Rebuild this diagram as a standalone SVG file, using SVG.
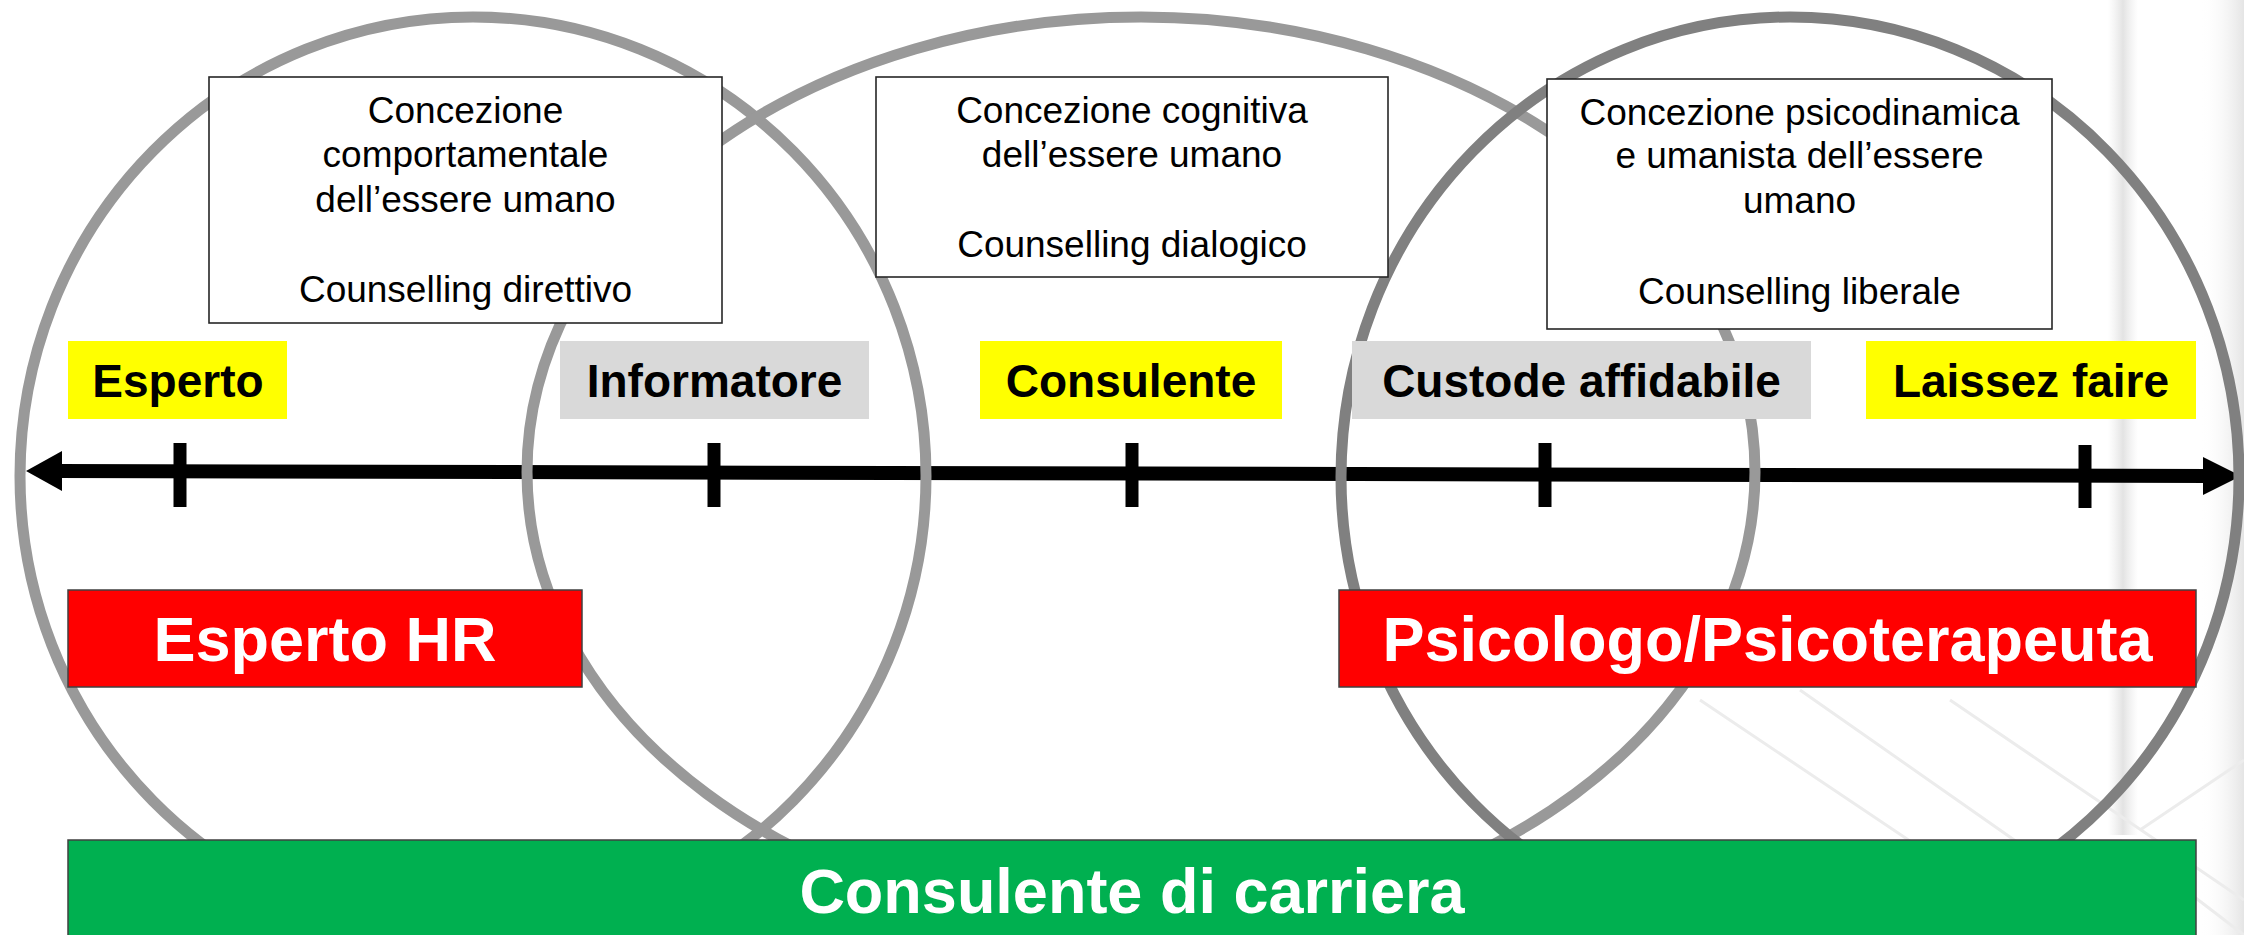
<svg xmlns="http://www.w3.org/2000/svg" width="2244" height="935" viewBox="0 0 2244 935">
  <defs>
    <linearGradient id="bgR" x1="0" y1="0" x2="1" y2="0">
      <stop offset="0" stop-color="#ffffff" stop-opacity="0"/>
      <stop offset="1" stop-color="#d9d9d9" stop-opacity="1"/>
    </linearGradient>
    <linearGradient id="band" x1="0" y1="0" x2="1" y2="0">
      <stop offset="0" stop-color="#e4e4e4" stop-opacity="0"/>
      <stop offset="0.5" stop-color="#dcdcdc" stop-opacity="1"/>
      <stop offset="1" stop-color="#e4e4e4" stop-opacity="0"/>
    </linearGradient>
    <style>
      .ring { fill: none; stroke: #999999; stroke-width: 11; }
      .ring.dark { stroke: #808080; }
      .note { fill: #ffffff; stroke: #262626; stroke-width: 1.6; }
      .note-t { font-family: "Liberation Sans", Arial, sans-serif; font-size: 37px; fill: #000000; text-anchor: middle; }
      .lab-y { fill: #ffff00; }
      .lab-g { fill: #d9d9d9; }
      .lab-t { font-family: "Liberation Sans", Arial, sans-serif; font-size: 46px; font-weight: bold; fill: #000000; text-anchor: middle; }
      .red { fill: #ff0000; stroke: #404040; stroke-width: 1.5; }
      .green { fill: #00b050; stroke: #404040; stroke-width: 1.5; }
      .big-t { font-family: "Liberation Sans", Arial, sans-serif; font-size: 63px; font-weight: bold; fill: #ffffff; text-anchor: middle; }
      .axis { stroke: #000000; stroke-width: 14; fill: none; }
      .tick { stroke: #000000; stroke-width: 13; }
      .tex { stroke: #ececec; stroke-width: 3; fill: none; }
    </style>
  </defs>
  <rect x="0" y="0" width="2244" height="935" fill="#ffffff"/>
  <g id="background-texture">
    <rect x="2200" y="0" width="44" height="935" fill="url(#bgR)" opacity="0.7"/>
    <rect x="2108" y="0" width="30" height="835" fill="url(#band)" opacity="0.8"/>
    <path class="tex" d="M1700,700 L2050,935 M1800,690 L2150,935 M1950,700 L2244,900 M2140,830 L2244,760 M2120,840 L2244,935"/>
  </g>

  <g id="connectors">
    <line class="axis" x1="58" y1="471" x2="2208" y2="476"/>
    <polygon points="26,471 62,451 62,491" fill="#000000"/>
    <polygon points="2241,476 2203,457 2203,495" fill="#000000"/>
    <line class="tick" x1="180" y1="443" x2="180" y2="507"/>
    <line class="tick" x1="714" y1="443" x2="714" y2="507"/>
    <line class="tick" x1="1132" y1="443" x2="1132" y2="507"/>
    <line class="tick" x1="1545" y1="443" x2="1545" y2="507"/>
    <line class="tick" x1="2085" y1="445" x2="2085" y2="508"/>
  </g>

  <g id="circle-left"><ellipse class="ring" cx="473" cy="476" rx="453" ry="459"/></g>
  <g id="circle-middle"><ellipse class="ring" cx="1141" cy="472" rx="614" ry="455"/></g>
  <g id="circle-right"><ellipse class="ring dark" cx="1790" cy="477" rx="449" ry="460"/></g>

  <g id="note-comportamentale">
    <rect class="note" x="209" y="77" width="513" height="246"/>
    <text class="note-t" x="465.5" y="123">Concezione</text>
    <text class="note-t" x="465.5" y="167">comportamentale</text>
    <text class="note-t" x="465.5" y="212">dell’essere umano</text>
    <text class="note-t" x="465.5" y="302">Counselling direttivo</text>
  </g>
  <g id="note-cognitiva">
    <rect class="note" x="876" y="77" width="512" height="200"/>
    <text class="note-t" x="1132" y="123">Concezione cognitiva</text>
    <text class="note-t" x="1132" y="167">dell’essere umano</text>
    <text class="note-t" x="1132" y="257">Counselling dialogico</text>
  </g>
  <g id="note-psicodinamica">
    <rect class="note" x="1547" y="79" width="505" height="250"/>
    <text class="note-t" x="1799.5" y="125">Concezione psicodinamica</text>
    <text class="note-t" x="1799.5" y="168">e umanista dell’essere</text>
    <text class="note-t" x="1799.5" y="213">umano</text>
    <text class="note-t" x="1799.5" y="304">Counselling liberale</text>
  </g>

  <g id="label-esperto">
    <rect class="lab-y" x="68" y="341" width="219" height="78"/>
    <text class="lab-t" x="178" y="397">Esperto</text>
  </g>
  <g id="label-informatore">
    <rect class="lab-g" x="560" y="341" width="309" height="78"/>
    <text class="lab-t" x="714.5" y="397">Informatore</text>
  </g>
  <g id="label-consulente">
    <rect class="lab-y" x="980" y="341" width="302" height="78"/>
    <text class="lab-t" x="1131" y="397">Consulente</text>
  </g>
  <g id="label-custode">
    <rect class="lab-g" x="1352" y="341" width="459" height="78"/>
    <text class="lab-t" x="1581.5" y="397">Custode affidabile</text>
  </g>
  <g id="label-laissez">
    <rect class="lab-y" x="1866" y="341" width="330" height="78"/>
    <text class="lab-t" x="2031" y="397">Laissez faire</text>
  </g>

  <g id="role-hr">
    <rect class="red" x="68" y="590" width="514" height="97"/>
    <text class="big-t" x="325" y="661">Esperto HR</text>
  </g>
  <g id="role-psicologo">
    <rect class="red" x="1339" y="590" width="857" height="97"/>
    <text class="big-t" x="1767.5" y="661">Psicologo/Psicoterapeuta</text>
  </g>
  <g id="role-carriera">
    <rect class="green" x="68" y="840" width="2128" height="100"/>
    <text class="big-t" x="1132" y="913">Consulente di carriera</text>
  </g>
</svg>
